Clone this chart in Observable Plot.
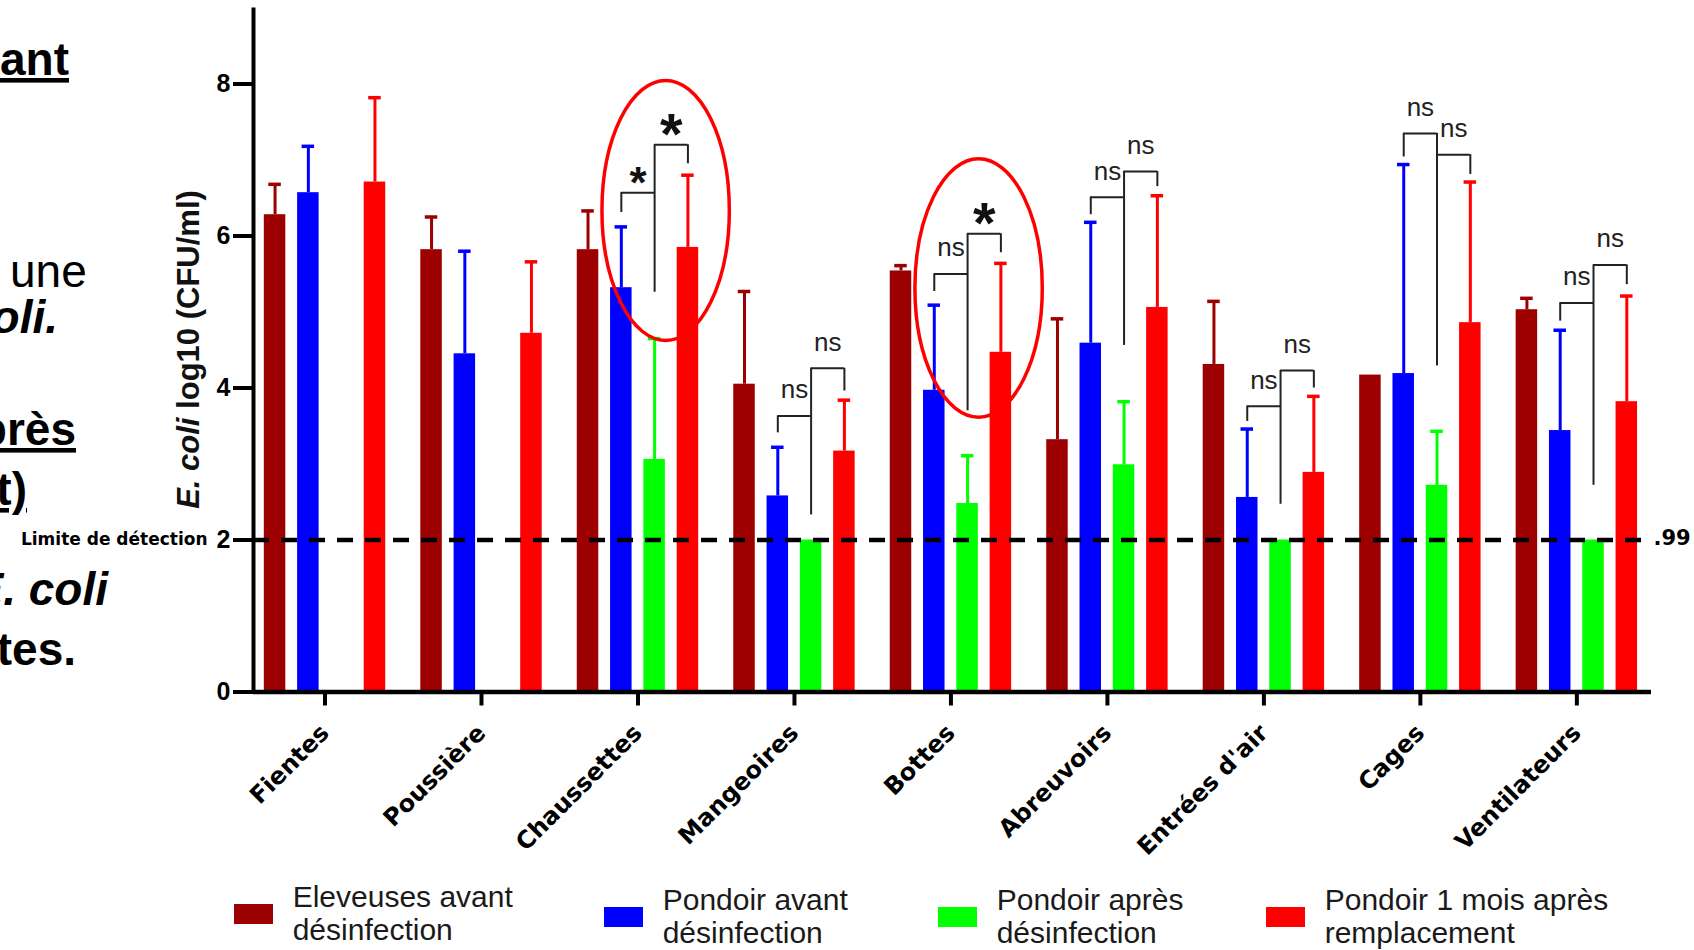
<!DOCTYPE html>
<html><head><meta charset="utf-8">
<script src="https://cdn.jsdelivr.net/npm/d3@7"></script>
<script src="https://cdn.jsdelivr.net/npm/@observablehq/plot@0.6"></script>
<style>
html,body{margin:0;padding:0;background:#fff;}
#wrap{position:relative;width:1694px;height:950px;overflow:hidden;background:#fff;}
#chart svg{display:block;}
#legend{display:flex;padding-left:234px;font:30px "Liberation Sans",Arial,sans-serif;line-height:33px;color:#1a1a1a;}
.item{display:flex;align-items:flex-start;flex:none;}
.item:nth-child(1){width:370px;}
.item:nth-child(2){width:334px;margin-top:3px;}
.item:nth-child(3){width:328px;margin-top:3px;}
.item:nth-child(4){margin-top:3px;}
.sw{width:38.7px;height:20px;margin-top:24px;margin-right:20px;flex:none;}
.lab{max-width:300px;}
</style></head>
<body><div id="wrap"><div id="chart"></div><div id="legend"></div></div>
<script>
// ---- data ----
const categories = ["Fientes","Poussière","Chaussettes","Mangeoires","Bottes","Abreuvoirs","Entrées d'air","Cages","Ventilateurs"];
const series = ["Eleveuses avant désinfection","Pondoir avant désinfection","Pondoir après désinfection","Pondoir 1 mois après remplacement"];
const colors = ["#9c0000","#0000ff","#00ff00","#ff0000"];

const eleveusesAvant   = [6.28,5.82,5.82,4.05,5.54,3.32,4.31,4.17,5.03];
const eleveusesAvantSD = [0.40,0.43,0.51,1.22,0.07,1.59,0.83,null,0.15];
const pondoirAvant     = [6.57,4.45,5.32,2.58,3.97,4.59,2.56,4.19,3.44];
const pondoirAvantSD   = [0.61,1.35,0.80,0.64,1.12,1.59,0.90,2.75,1.32];
const pondoirApres     = [null,null,3.06,2.00,2.48,2.99,2.00,2.72,2.00];
const pondoirApresSD   = [null,null,1.59,null,0.63,0.83,null,0.71,null];
const pondoir1Mois     = [6.71,4.72,5.85,3.17,4.47,5.06,2.89,4.86,3.82];
const pondoir1MoisSD   = [1.11,0.94,0.95,0.67,1.17,1.47,1.00,1.85,1.39];

const yTicks = [0,2,4,6,8];
const detectionLimit = 2;
const detectionLabel = "Limite de détection";
const limitValueLabel = ".99";
const yTitleItalic = "E. coli";
const yTitleRest = " log10 (CFU/ml)";

// significance brackets (blue vs green, green vs red)
const bracketCats  = ["Chaussettes","Mangeoires","Bottes","Abreuvoirs","Entrées d'air","Cages","Ventilateurs"];
const leftLevel    = [6.57,3.63,5.50,6.51,3.76,7.35,5.12];
const leftTickEnd  = [6.31,3.41,5.27,6.28,3.56,7.04,4.88];
const rightLevel   = [7.20,4.26,6.03,6.85,4.23,7.07,5.62];
const rightTickEnd = [6.95,3.96,5.78,6.65,4.00,6.81,5.36];
const stemBottom   = [5.26,2.33,3.70,4.56,2.47,4.29,2.72];
const leftLabel    = ["*","ns","ns","ns","ns","ns","ns"];
const rightLabel   = ["*","ns","*","ns","ns","ns","ns"];

// highlighted groups (red ellipses), value range covered
const ellipseCats = ["Chaussettes","Bottes"];
const ellipseLow  = [4.62,3.61];
const ellipseHigh = [8.04,7.01];

// slide text fragments at the left edge
const slideFragments = ["ant","une","oli.","près","t)","E. coli","tes."];

// ---- layout constants ----
const STEP = 0.2128, HALF = 0.0687, CAP = 0.04;
const xDomain = [-0.457, 8.477];
const INK = "#222";

const valueSets = [eleveusesAvant, pondoirAvant, pondoirApres, pondoir1Mois];
const sdSets = [eleveusesAvantSD, pondoirAvantSD, pondoirApresSD, pondoir1MoisSD];
const rows = [];
categories.forEach((cat, ci) => valueSets.forEach((vals, si) => {
  if (vals[ci] != null) rows.push({cat, ci, si, series: series[si], value: vals[ci], sd: sdSets[si][ci]});
}));
const errRows = rows.filter(d => d.sd != null);
const pos = d => d.ci + (d.si - 1.5) * STEP;

const brackets = bracketCats.map((cat, k) => ({
  ci: categories.indexOf(cat), left: leftLevel[k], leftEnd: leftTickEnd[k],
  right: rightLevel[k], rightEnd: rightTickEnd[k], stem: stemBottom[k]
}));
const bX = b => b.ci - 0.5 * STEP, gX = b => b.ci + 0.5 * STEP, rX = b => b.ci + 1.5 * STEP;
const labels = [];
bracketCats.forEach((cat, k) => {
  const ci = categories.indexOf(cat);
  labels.push({x: ci, y: leftLevel[k], text: leftLabel[k], side: "left"});
  labels.push({x: ci + STEP, y: rightLevel[k], text: rightLabel[k], side: "right"});
});

const chart = Plot.plot({
  width: 1694, height: 880,
  marginLeft: 253, marginRight: 43, marginTop: 7.5, marginBottom: 188.5,
  style: {fontFamily: '"Liberation Sans", Arial, sans-serif', background: "white", color: "black", overflow: "visible"},
  x: {domain: xDomain},
  y: {domain: [0, 9]},
  color: {domain: series, range: colors},
  marks: [
    Plot.rectY(rows, {x1: d => pos(d) - HALF, x2: d => pos(d) + HALF, y1: 0, y2: "value", fill: "series"}),
    Plot.ruleX(errRows, {x: pos, y1: "value", y2: d => d.value + d.sd, stroke: "series", strokeWidth: 3}),
    Plot.ruleY(errRows, {y: d => d.value + d.sd, x1: d => pos(d) - CAP, x2: d => pos(d) + CAP, stroke: "series", strokeWidth: 3.5}),
    Plot.ruleY([detectionLimit], {strokeDasharray: "16,12", strokeWidth: 4.5}),
    Plot.ruleY([0], {strokeWidth: 4.5}),
    Plot.ruleX([xDomain[0]], {y1: 0, y2: 9, strokeWidth: 4}),
    // brackets
    Plot.ruleX(brackets, {x: gX, y1: "stem", y2: b => Math.max(b.left, b.right), stroke: INK, strokeWidth: 2}),
    Plot.ruleY(brackets, {y: "left", x1: bX, x2: gX, stroke: INK, strokeWidth: 2}),
    Plot.ruleX(brackets, {x: bX, y1: "leftEnd", y2: "left", stroke: INK, strokeWidth: 2}),
    Plot.ruleY(brackets, {y: "right", x1: gX, x2: rX, stroke: INK, strokeWidth: 2}),
    Plot.ruleX(brackets, {x: rX, y1: "rightEnd", y2: "right", stroke: INK, strokeWidth: 2}),
    Plot.text(labels.filter(d => d.text === "ns"), {x: "x", y: "y", text: "text", dy: -26, fontSize: 26, fill: INK}),
    Plot.text(labels.filter(d => d.text !== "ns"), {x: "x", y: "y", text: "text", dy: -9, fontWeight: "bold", fill: "#111",
      fontSize: d => d.side === "left" ? 44 : 58}),
    Plot.axisY({ticks: yTicks, tickSize: 20, tickPadding: 3, strokeWidth: 4, fontSize: 25, fontWeight: "bold", label: null}),
    Plot.axisX({ticks: d3.range(categories.length), tickFormat: i => categories[i], tickSize: 14, tickPadding: 23,
      tickRotate: -45, strokeWidth: 4, fontSize: 24, fontWeight: "bold", fontFamily: "DejaVu Sans", label: null}),
    Plot.text([detectionLimit], {x: xDomain[0], y: d => d, text: () => detectionLabel, textAnchor: "end", dx: -46,
      fontFamily: "DejaVu Sans", fontWeight: "bold", fontSize: 17}),
    Plot.text([detectionLimit], {x: xDomain[1], y: d => d, text: () => limitValueLabel, textAnchor: "start", dx: 2, dy: -2,
      fontFamily: "DejaVu Sans", fontWeight: "bold", fontSize: 21})
  ]
});
document.getElementById("chart").appendChild(chart);

const xs = chart.scale("x"), ys = chart.scale("y");
const svg = d3.select(chart);

// red ellipses around highlighted comparisons
svg.append("g").attr("fill", "none").attr("stroke", "#ff0000").attr("stroke-width", 3.5)
  .selectAll("ellipse").data(ellipseCats).join("ellipse")
  .attr("cx", (c) => xs.apply(categories.indexOf(c) + 0.18))
  .attr("cy", (c, i) => (ys.apply(ellipseLow[i]) + ys.apply(ellipseHigh[i])) / 2)
  .attr("rx", () => xs.apply(0.407) - xs.apply(0))
  .attr("ry", (c, i) => Math.abs(ys.apply(ellipseLow[i]) - ys.apply(ellipseHigh[i])) / 2);

// y-axis title with italic species name
const yt = svg.append("text")
  .attr("transform", `translate(${xs.apply(xDomain[0]) - 54},${ys.apply(4.5)}) rotate(-90)`)
  .attr("text-anchor", "middle").attr("font-size", 31).attr("font-weight", "bold")
  .attr("font-family", '"Liberation Sans", Arial, sans-serif').attr("fill", "#111");
yt.append("tspan").attr("font-style", "italic").text(yTitleItalic);
yt.append("tspan").text(yTitleRest);

// slide text fragments cut by the left edge
const frag = svg.append("g").attr("font-family", '"Liberation Sans", Arial, sans-serif').attr("font-size", 46).attr("fill", "#000");
const fragStyle = [
  {x: 0, y: 75, anchor: "start", weight: "bold", italic: false, under: true},
  {x: 10, y: 287, anchor: "start", weight: "normal", italic: false, under: false},
  {x: 58, y: 333, anchor: "end", weight: "bold", italic: true, under: false},
  {x: 76, y: 445, anchor: "end", weight: "bold", italic: false, under: true},
  {x: 27, y: 505, anchor: "end", weight: "bold", italic: false, under: true},
  {x: 108, y: 605, anchor: "end", weight: "bold", italic: true, under: false},
  {x: 76, y: 665, anchor: "end", weight: "bold", italic: false, under: false}
];
slideFragments.forEach((t, i) => {
  const s = fragStyle[i];
  frag.append("text").attr("x", s.x).attr("y", s.y).attr("text-anchor", s.anchor)
    .attr("font-weight", s.weight).attr("font-style", s.italic ? "italic" : "normal")
    .style("text-decoration", s.under ? "underline" : "none").text(t);
});

// legend
const legend = d3.select("#legend");
series.forEach((s, i) => {
  const it = legend.append("div").attr("class", "item");
  it.append("div").attr("class", "sw").style("background", colors[i]);
  it.append("div").attr("class", "lab").text(s);
});
</script></body></html>
